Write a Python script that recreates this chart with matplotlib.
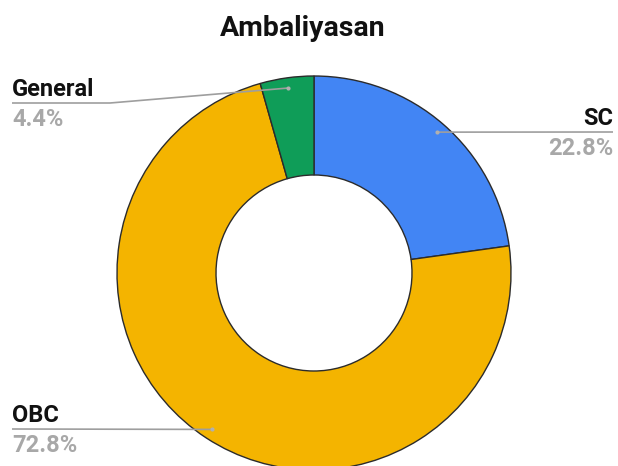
import numpy as np
import matplotlib.pyplot as plt

plt.rcParams['font.family'] = ['Roboto', 'DejaVu Sans']

# caste share in Ambaliyasan
categories = ['SC', 'OBC', 'General']
shares = [22.8, 72.8, 4.4]
colors = ['#4285F4', '#F4B400', '#0F9D58']

W, H = 618, 466
fig = plt.figure(figsize=(W / 100, H / 100), dpi=100)
ax = fig.add_axes([0, 0, 1, 1])

cx, cy, R = 314, H - 273, 197
wedges, _ = ax.pie(shares, colors=colors, startangle=90, counterclock=False,
                   radius=R, center=(cx, cy), frame=True,
                   wedgeprops=dict(width=R - 98, edgecolor='#2b2b2b', linewidth=1))
ax.set_xlim(0, W)
ax.set_ylim(0, H)
ax.axis('off')

ax.text(303, H - 36, 'Ambaliyasan', ha='center', va='baseline',
        fontsize=20.5, fontweight='bold', color='#111111')

# label anchor: (text x, line y, alignment, elbow x)
layout = {
    'SC': (613, H - 132, 'right', None),
    'OBC': (12, H - 429, 'left', None),
    'General': (12, H - 103, 'left', 110),
}

for w, name, val in zip(wedges, categories, shares):
    mid = np.deg2rad((w.theta1 + w.theta2) / 2)
    px = cx + 0.948 * R * np.cos(mid)
    py = cy + 0.948 * R * np.sin(mid)
    tx, ly, ha, elbow = layout[name]
    if elbow is None:
        xs, ys = [px, tx], [py, ly]
    else:
        xs, ys = [px, elbow, tx], [py, ly, ly]
    ax.plot(xs, ys, color='#9e9e9e', lw=1.2, solid_capstyle='butt')
    ax.plot(px, py, 'o', ms=3, color='#b0b0b0', mec='none')
    ax.text(tx, ly + 7, name, ha=ha, va='baseline', fontsize=17,
            fontweight='bold', color='#111111')
    ax.text(tx, ly - 23, f'{val}%', ha=ha, va='baseline', fontsize=17,
            fontweight='bold', color='#a8a8a8')

fig.savefig('out.png', dpi=100)
